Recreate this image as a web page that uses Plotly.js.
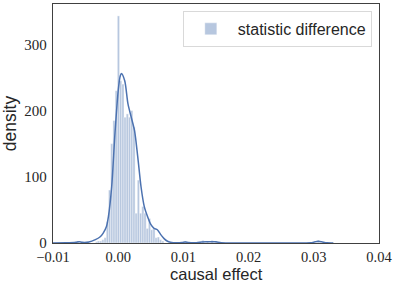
<!DOCTYPE html>
<html>
<head>
<meta charset="utf-8">
<script src="https://cdn.plot.ly/plotly-3.0.1.min.js"></script>
<style>html,body{margin:0;padding:0;background:#fff;}#chart{width:394px;height:283px;}</style>
</head>
<body>
<div id="chart"></div>
<script>
// Histogram bins (centres) and densities
const binCenters = [-0.0062, -0.0033, -0.00302, -0.00268, -0.00234, -0.00200, -0.00166, -0.00132, -0.00098, -0.00064, -0.00030,
  0.00004, 0.00038, 0.00072, 0.00106, 0.00140, 0.00174, 0.00208, 0.00242, 0.00276, 0.00310,
  0.00344, 0.00378, 0.00412, 0.00446, 0.00480, 0.00514, 0.00548, 0.00582, 0.00616, 0.00650,
  0.00684, 0.0103, 0.0130, 0.0137, 0.0144, 0.0150, 0.0307];
const binDensity = [3, 2, 3, 3, 5, 8, 32, 80, 150, 185, 230,
  343, 245, 240, 190, 195, 190, 200, 175, 45, 95,
  45, 55, 45, 22, 37, 20, 22, 8, 9, 5,
  3, 3, 4, 3, 4, 3, 4];
const binWidth = 0.00034;

// KDE curve
const kdeX = [-0.0100, -0.0080, -0.0065, -0.0060, -0.0055, -0.0045, -0.0035, -0.0028, -0.0023, -0.0018, -0.0015,
  -0.0010, -0.0005, 0.0000, 0.0003, 0.0005, 0.0010, 0.0015, 0.0020, 0.0025, 0.0030,
  0.0035, 0.0040, 0.0045, 0.0050, 0.0055, 0.0060, 0.0065, 0.0070, 0.0075, 0.0080,
  0.0090, 0.0098, 0.0103, 0.0108, 0.0120, 0.0128, 0.0135, 0.0142, 0.0150, 0.0158,
  0.0200, 0.0250, 0.0295, 0.0302, 0.0307, 0.0312, 0.0320, 0.0330];
const kdeY = [0, 0.2, 1.0, 2.0, 1.0, 1.5, 5, 9, 15, 25, 40,
  85, 165, 230, 252, 256, 245, 210, 190, 170, 130,
  85, 55, 40, 28, 22, 20, 13, 7, 3, 1.2,
  0.3, 0.8, 1.5, 0.6, 0.4, 1.5, 2.0, 2.0, 1.8, 0.3,
  0, 0, 0.3, 1.8, 2.5, 1.8, 0.2, 0];

const xTicks = [-0.01, 0.00, 0.01, 0.02, 0.03, 0.04];
const xTickText = ['\u22120.01', '0.00', '0.01', '0.02', '0.03', '0.04'];
const yTicks = [0, 100, 200, 300];
const xTitle = 'causal effect';
const yTitle = 'density';

const deep = '#4c72b0';
const data = [
  {
    type: 'bar', x: binCenters, y: binDensity, width: binWidth,
    name: 'statistic difference',
    marker: {color: 'rgba(76,114,176,0.4)', line: {color: '#ffffff', width: 0.4}},
    showlegend: true, hoverinfo: 'skip'
  },
  {
    type: 'scatter', mode: 'lines', x: kdeX, y: kdeY,
    line: {color: deep, width: 1.5, shape: 'spline', smoothing: 0.8},
    showlegend: false, hoverinfo: 'skip'
  }
];

const axisCommon = {
  showgrid: false, zeroline: false, showline: true, mirror: true,
  linecolor: '#404040', linewidth: 1.25, ticks: '',
  tickfont: {family: 'Liberation Serif, Times New Roman, serif', size: 15, color: '#262626'}
};

const layout = {
  width: 394, height: 283,
  margin: {l: 53, r: 15, t: 4, b: 40},
  paper_bgcolor: '#ffffff', plot_bgcolor: '#ffffff',
  bargap: 0,
  xaxis: Object.assign({}, axisCommon, {
    range: [-0.01, 0.04], tickvals: xTicks, ticktext: xTickText,
    tickfont: {family: 'Liberation Serif, Times New Roman, serif', size: 14.5, color: '#262626'}
  }),
  yaxis: Object.assign({}, axisCommon, {
    range: [0, 361], tickvals: yTicks, ticklabelstandoff: 2,
    title: {text: yTitle, font: {family: 'Liberation Sans, Arial, sans-serif', size: 17.5, color: '#262626'}, standoff: 4}
  }),
  annotations: [{
    text: xTitle, xref: 'paper', yref: 'paper', x: 0.5, y: -0.174,
    xanchor: 'center', yanchor: 'bottom', showarrow: false,
    font: {family: 'Liberation Sans, Arial, sans-serif', size: 16.5, color: '#262626'}
  }],
  legend: {
    x: 0.978, y: 0.971, xanchor: 'right', yanchor: 'top',
    bgcolor: 'rgba(255,255,255,0.8)', bordercolor: '#d9d9d9', borderwidth: 1,
    font: {family: 'Liberation Sans, Arial, sans-serif', size: 16, color: '#262626'},
    itemwidth: 44
  }
};

Plotly.newPlot('chart', data, layout, {staticPlot: true, displayModeBar: false});
</script>
</body>
</html>
